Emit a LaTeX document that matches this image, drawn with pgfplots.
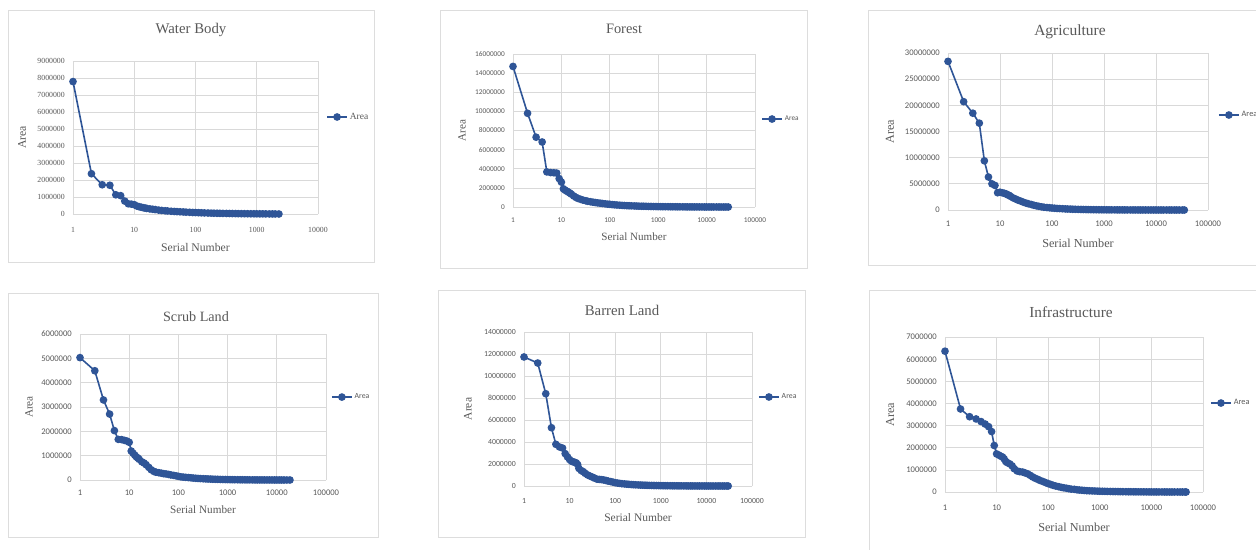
\documentclass[border=0pt]{standalone}
\usepackage{fontspec}
\setmainfont{Liberation Serif}
\newfontfamily\carlito{Carlito}
\usepackage{pgfplots}
\usepackage{pgfplotstable}
\pgfplotsset{compat=1.18}
\definecolor{areablue}{HTML}{2F5597}
\definecolor{gridgray}{HTML}{D9D9D9}
\definecolor{framegray}{HTML}{DDDDDD}
\definecolor{txtgray}{HTML}{595959}
\newcommand{\fs}[1]{\fontsize{#1}{#1}\selectfont}

\pgfplotstableread{
x y
1 7790000
2 2370000
3 1720000
4 1690000
5 1130000
6 1080000
7 760000
8 600000
9 580000
10 550000
11 470000
12 430000
13 400000
14 370000
15 350000
16 330000
18 300000
20 280000
22 260000
25 230000
28 210000
32 190000
35 180000
40 160000
45 150000
50 140000
56 130000
63 120000
70 110000
80 100000
90 90000
100 85000
112 78000
125 70000
140 64000
160 58000
180 52000
200 48000
225 43000
250 40000
280 36000
320 32000
360 29000
400 26000
450 23000
500 21000
560 19000
630 17000
710 15000
800 13000
900 11000
1000 10000
1120 9000
1250 8000
1400 7000
1600 5000
1800 4000
2000 3000
2300 1000
}\tabWater

\pgfplotstableread{
x y
1 14700000
2 9800000
3 7300000
4 6800000
5 3670000
6 3600000
7 3580000
8 3550000
9 2970000
10 2600000
11 1900000
12 1750000
13 1650000
14 1550000
15 1450000
16 1350000
18 1150000
20 1000000
22 900000
25 800000
28 720000
32 650000
35 600000
40 550000
45 500000
50 470000
56 430000
63 400000
70 370000
80 330000
90 300000
100 280000
112 250000
125 230000
140 210000
160 190000
180 170000
200 155000
225 140000
250 130000
280 120000
320 110000
360 100000
400 90000
450 80000
500 75000
560 70000
630 60000
710 55000
800 50000
900 45000
1000 40000
1120 38000
1250 35000
1400 32000
1600 30000
1800 27000
2000 25000
2250 22000
2500 20000
2800 18000
3200 16000
3600 14000
4000 12000
4500 11000
5000 10000
5600 9000
6300 8000
7100 7000
8000 6000
9000 5000
10000 4500
11200 4000
12500 3500
14000 3000
16000 2500
18000 2000
20000 1500
22500 1000
25000 700
28000 300
}\tabForest

\pgfplotstableread{
x y
1 28400000
2 20700000
3 18500000
4 16600000
5 9400000
6 6300000
7 5000000
8 4700000
9 3300000
10 3400000
11 3300000
12 3200000
13 3100000
14 2900000
15 2800000
16 2600000
18 2300000
20 2100000
22 1900000
25 1700000
28 1500000
32 1300000
35 1200000
40 1050000
45 900000
50 800000
56 700000
63 600000
70 530000
80 470000
90 420000
100 380000
112 340000
125 300000
140 270000
160 240000
180 210000
200 190000
225 170000
250 150000
280 135000
320 120000
360 105000
400 95000
450 85000
500 75000
560 68000
630 60000
710 54000
800 48000
900 43000
1000 38000
1120 34000
1250 30000
1400 27000
1600 24000
1800 21000
2000 19000
2250 17000
2500 15000
2800 13000
3200 11000
3600 10000
4000 9000
4500 8000
5000 7000
5600 6000
6300 5000
7100 4500
8000 4000
9000 3500
10000 3000
11200 2600
12500 2200
14000 1900
16000 1600
18000 1300
20000 1000
22500 800
25000 600
28000 400
32000 200
35000 100
}\tabAgri

\pgfplotstableread{
x y
1 5030000
2 4490000
3 3290000
4 2710000
5 2030000
6 1670000
7 1660000
8 1630000
9 1600000
10 1550000
11 1190000
12 1100000
13 1020000
14 950000
15 900000
16 850000
18 750000
20 700000
22 630000
25 520000
28 420000
32 350000
35 320000
40 300000
45 280000
50 260000
56 250000
63 230000
70 210000
80 190000
90 170000
100 150000
112 130000
125 120000
140 110000
160 100000
180 90000
200 80000
225 72000
250 65000
280 58000
320 52000
360 46000
400 42000
450 38000
500 34000
560 30000
630 27000
710 24000
800 21000
900 19000
1000 17000
1120 15000
1250 13500
1400 12000
1600 10500
1800 9500
2000 8500
2250 7500
2500 6500
2800 6000
3200 5000
3600 4500
4000 4000
4500 3500
5000 3000
5600 2700
6300 2400
7100 2000
8000 1700
9000 1400
10000 1200
11200 1000
12500 800
14000 600
16000 400
18500 200
}\tabScrub

\pgfplotstableread{
x y
1 11730000
2 11180000
3 8390000
4 5300000
5 3790000
6 3550000
7 3450000
8 2940000
9 2640000
10 2400000
11 2250000
12 2200000
13 2150000
14 2100000
15 1950000
16 1600000
18 1400000
20 1300000
22 1150000
25 1000000
28 900000
32 800000
35 720000
40 620000
45 600000
50 580000
56 550000
63 500000
70 450000
80 400000
90 350000
100 300000
112 270000
125 240000
140 210000
160 190000
180 170000
200 150000
225 135000
250 120000
280 108000
320 96000
360 86000
400 78000
450 70000
500 63000
560 57000
630 51000
710 46000
800 41000
900 37000
1000 33000
1120 30000
1250 27000
1400 24000
1600 21000
1800 19000
2000 17000
2250 15000
2500 13000
2800 12000
3200 10500
3600 9000
4000 8000
4500 7000
5000 6200
5600 5500
6300 4800
7100 4200
8000 3600
9000 3100
10000 2700
11200 2300
12500 2000
14000 1700
16000 1400
18000 1100
20000 800
22500 600
25000 400
28000 200
30000 100
}\tabBarren

\pgfplotstableread{
x y
1 6360000
2 3750000
3 3400000
4 3300000
5 3180000
6 3070000
7 2950000
8 2730000
9 2100000
10 1720000
11 1670000
12 1620000
13 1580000
14 1500000
15 1380000
16 1330000
18 1270000
20 1180000
22 1050000
25 950000
28 920000
32 900000
35 870000
40 820000
45 750000
50 680000
56 620000
63 570000
70 520000
80 470000
90 420000
100 380000
112 340000
125 300000
140 270000
160 240000
180 210000
200 190000
225 170000
250 150000
280 130000
320 120000
360 100000
400 90000
450 80000
500 70000
560 60000
630 55000
710 50000
800 45000
900 40000
1000 35000
1120 32000
1250 30000
1400 27000
1600 25000
1800 22000
2000 20000
2250 18000
2500 16000
2800 14000
3200 12500
3600 11000
4000 10000
4500 9000
5000 8000
5600 7000
6300 6200
7100 5500
8000 4800
9000 4200
10000 3700
11200 3300
12500 2900
14000 2500
16000 2200
18000 1900
20000 1600
22500 1300
25000 1000
28000 800
32000 600
36000 400
40000 250
45000 120
47000 50
}\tabInfra

\pgfkeys{/pgf/number format/assume math mode=true}
\pgfplotsset{
  scale only axis, xmin=1, ymin=0,
  grid=major, major grid style={draw=gridgray, line width=0.7pt},
  axis line style={draw=none}, major tick length=0pt, minor tick length=0pt,
  tick style={draw=none}, minor x tick num=0,
  tick label style={text=txtgray},
  scaled y ticks=false,
  yticklabel style={/pgf/number format/fixed, /pgf/number format/precision=0,
    /pgf/number format/1000 sep={}, anchor=east, inner sep=0pt, xshift=-8pt},
  xticklabel style={anchor=center, inner sep=0pt},
  label style={text=txtgray},
  xlabel style={anchor=center, inner sep=0pt},
  ylabel style={anchor=center, inner sep=0pt},
  legend style={anchor=west, draw=none, fill=none, inner sep=0pt,
    text=txtgray, cells={anchor=west}},
  legend image code/.code={\draw[mark repeat=2, mark phase=2, #1]
    plot coordinates {(0pt,0pt) (10pt,0pt) (20pt,0pt)};},
  clip=false,
}

\begin{document}
\begin{tikzpicture}
\path[use as bounding box] (0,0) rectangle (1256pt,-549pt);
\clip (0,0) rectangle (1256pt,-549pt);
\fill[white] (0,0) rectangle (1256pt,-549pt);

% frames
\draw[framegray, line width=0.8pt, fill=white] (8pt,-10pt) rectangle (374pt,-262pt);
\draw[framegray, line width=0.8pt, fill=white] (440pt,-10pt) rectangle (807pt,-268pt);
\draw[framegray, line width=0.8pt, fill=white] (868pt,-10pt) rectangle (1270pt,-265pt);
\draw[framegray, line width=0.8pt, fill=white] (8pt,-293pt) rectangle (378pt,-537pt);
\draw[framegray, line width=0.8pt, fill=white] (438pt,-290pt) rectangle (805pt,-537pt);
\draw[framegray, line width=0.8pt, fill=white] (869pt,-290pt) rectangle (1270pt,-560pt);

% titles
\node[text=txtgray, font=\fs{14.8}] at (191pt,-30pt) {Water Body};
\node[text=txtgray, font=\fs{14.4}] at (624pt,-29pt) {Forest};
\node[text=txtgray, font=\fs{15.5}] at (1070pt,-32pt) {Agriculture};
\node[text=txtgray, font=\fs{14.2}] at (196pt,-317pt) {Scrub Land};
\node[text=txtgray, font=\fs{14.8}] at (622pt,-310pt) {Barren Land};
\node[text=txtgray, font=\fs{15.3}] at (1071pt,-312pt) {Infrastructure};

% 1 Water Body
\begin{semilogxaxis}[at={(73pt,-214pt)}, anchor=south west, width=245pt, height=153pt,
  xlabel={Serial Number}, ylabel={Area},
  xmax=10000, xtick={1,10,100,1000,10000}, xticklabels={1,10,100,1000,10000},
  ymax=9000000, ytick={0,1000000,2000000,3000000,4000000,5000000,6000000,7000000,8000000,9000000},
  tick label style={font=\fs{7.8}}, xticklabel style={yshift=-16pt},
  label style={font=\fs{11.7}},
  xlabel style={at={(axis description cs:0.5,-0.216)}},
  ylabel style={at={(axis description cs:-0.208,0.5)}},
  legend style={at={(axis description cs:1.033,0.634)}, font=\fs{9.5}}]
\addplot[color=areablue, line width=1.6pt, mark=*, mark size=3pt] table {\tabWater};
\addlegendentry{Area}
\end{semilogxaxis}

% 2 Forest
\begin{semilogxaxis}[at={(513pt,-207pt)}, anchor=south west, width=242pt, height=153pt,
  xlabel={Serial Number}, ylabel={Area},
  xmax=100000, xtick={1,10,100,1000,10000,100000}, xticklabels={1,10,100,1000,10000,100000},
  ymax=16000000, ytick={0,2000000,4000000,6000000,8000000,10000000,12000000,14000000,16000000},
  tick label style={font=\carlito\fs{7.3}}, xticklabel style={yshift=-13pt},
  label style={font=\fs{11.1}},
  xlabel style={at={(axis description cs:0.5,-0.196)}},
  ylabel style={at={(axis description cs:-0.211,0.5)}},
  legend style={at={(axis description cs:1.025,0.575)}, font=\carlito\fs{7.3}}]
\addplot[color=areablue, line width=1.6pt, mark=*, mark size=3pt] table {\tabForest};
\addlegendentry{Area}
\end{semilogxaxis}

% 3 Agriculture
\begin{semilogxaxis}[at={(948pt,-210pt)}, anchor=south west, width=260pt, height=157pt,
  xlabel={Serial Number}, ylabel={Area},
  xmax=100000, xtick={1,10,100,1000,10000,100000}, xticklabels={1,10,100,1000,10000,100000},
  ymax=30000000, ytick={0,5000000,10000000,15000000,20000000,25000000,30000000},
  tick label style={font=\carlito\fs{8.6}}, xticklabel style={yshift=-14pt},
  label style={font=\fs{12.2}},
  xlabel style={at={(axis description cs:0.5,-0.210)}},
  ylabel style={at={(axis description cs:-0.223,0.5)}},
  legend style={at={(axis description cs:1.038,0.605)}, font=\carlito\fs{8.3}}]
\addplot[color=areablue, line width=1.6pt, mark=*, mark size=3pt] table {\tabAgri};
\addlegendentry{Area}
\end{semilogxaxis}

% 4 Scrub Land
\begin{semilogxaxis}[at={(80pt,-480pt)}, anchor=south west, width=246pt, height=146pt,
  xlabel={Serial Number}, ylabel={Area},
  xmax=100000, xtick={1,10,100,1000,10000,100000}, xticklabels={1,10,100,1000,10000,100000},
  ymax=6000000, ytick={0,1000000,2000000,3000000,4000000,5000000,6000000},
  tick label style={font=\carlito\fs{8.6}}, xticklabel style={yshift=-13pt},
  label style={font=\fs{11.2}},
  xlabel style={at={(axis description cs:0.5,-0.205)}},
  ylabel style={at={(axis description cs:-0.207,0.5)}},
  legend style={at={(axis description cs:1.020,0.568)}, font=\carlito\fs{7.8}}]
\addplot[color=areablue, line width=1.6pt, mark=*, mark size=3pt] table {\tabScrub};
\addlegendentry{Area}
\end{semilogxaxis}

% 5 Barren Land
\begin{semilogxaxis}[at={(524pt,-486pt)}, anchor=south west, width=228pt, height=154pt,
  xlabel={Serial Number}, ylabel={Area},
  xmax=100000, xtick={1,10,100,1000,10000,100000}, xticklabels={1,10,100,1000,10000,100000},
  ymax=14000000, ytick={0,2000000,4000000,6000000,8000000,10000000,12000000,14000000},
  tick label style={font=\carlito\fs{7.8}}, xticklabel style={yshift=-15pt},
  label style={font=\fs{11.5}},
  xlabel style={at={(axis description cs:0.5,-0.208)}},
  ylabel style={at={(axis description cs:-0.246,0.5)}},
  legend style={at={(axis description cs:1.026,0.578)}, font=\carlito\fs{7.8}}]
\addplot[color=areablue, line width=1.6pt, mark=*, mark size=3pt] table {\tabBarren};
\addlegendentry{Area}
\end{semilogxaxis}

% 6 Infrastructure
\begin{semilogxaxis}[at={(945pt,-492pt)}, anchor=south west, width=258pt, height=155pt,
  xlabel={Serial Number}, ylabel={Area},
  xmax=100000, xtick={1,10,100,1000,10000,100000}, xticklabels={1,10,100,1000,10000,100000},
  ymax=7000000, ytick={0,1000000,2000000,3000000,4000000,5000000,6000000,7000000},
  tick label style={font=\carlito\fs{8.6}}, xticklabel style={yshift=-16pt},
  label style={font=\fs{12.2}},
  xlabel style={at={(axis description cs:0.5,-0.226)}},
  ylabel style={at={(axis description cs:-0.213,0.5)}},
  legend style={at={(axis description cs:1.027,0.574)}, font=\carlito\fs{8.3}}]
\addplot[color=areablue, line width=1.6pt, mark=*, mark size=3pt] table {\tabInfra};
\addlegendentry{Area}
\end{semilogxaxis}
\end{tikzpicture}
\end{document}
